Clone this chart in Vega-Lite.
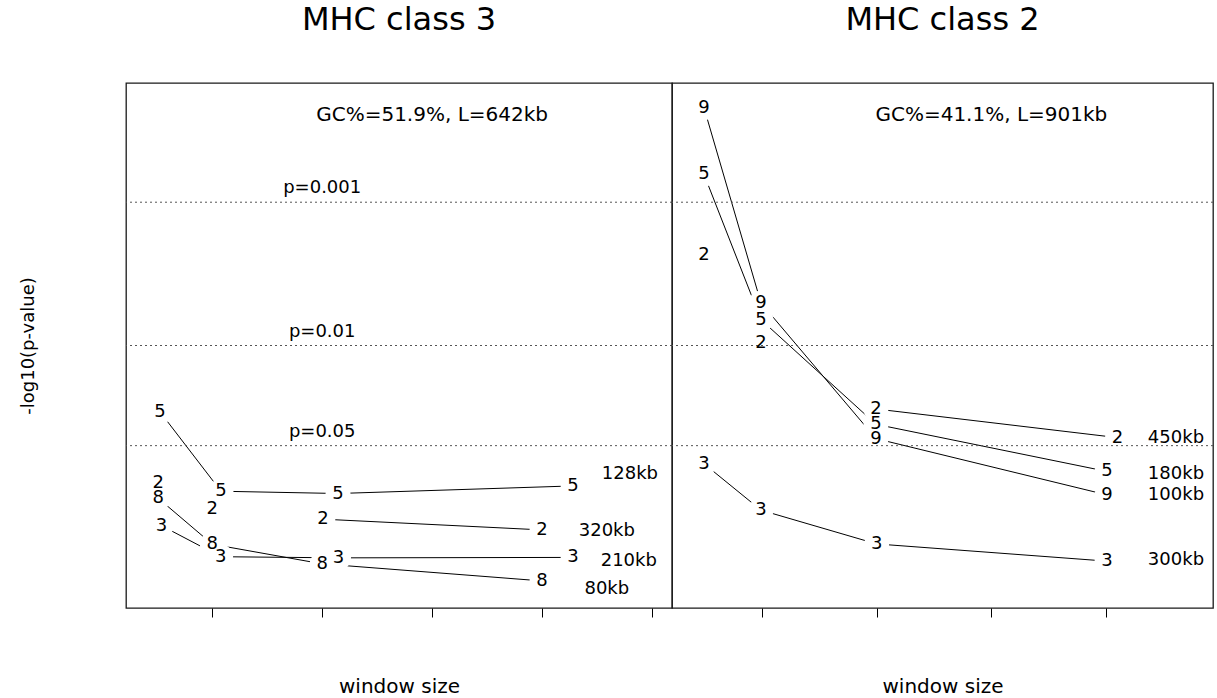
{
  "$schema": "https://vega.github.io/schema/vega-lite/v6.json",
  "autosize": {"type": "none"},
  "padding": {"left": 126, "top": 83, "right": 1091, "bottom": 615},
  "background": "white",
  "spacing": 0,
  "bounds": "flush",
  "config": {
    "view": {"stroke": "#1a1a1a", "strokeWidth": 1.3},
    "font": "DejaVu Sans",
    "text": {"font": "DejaVu Sans", "color": "black"},
    "title": {"font": "DejaVu Sans", "fontSize": 32, "fontWeight": "normal", "color": "black", "offset": 50, "baseline": "alphabetic", "anchor": "middle"}
  },
  "datasets": {
    "pts": [
      {"panel": "MHC class 3", "series": "5", "t": 0.524, "v": 1.537, "joined": true},
      {"panel": "MHC class 3", "series": "5", "t": 1.079, "v": 0.983, "joined": true},
      {"panel": "MHC class 3", "series": "5", "t": 2.144, "v": 0.967, "joined": true},
      {"panel": "MHC class 3", "series": "5", "t": 4.283, "v": 1.02, "joined": true},
      {"panel": "MHC class 3", "series": "2", "t": 0.508, "v": 1.038, "joined": false},
      {"panel": "MHC class 3", "series": "2", "t": 1.0, "v": 0.862, "joined": false},
      {"panel": "MHC class 3", "series": "2", "t": 2.006, "v": 0.788, "joined": true},
      {"panel": "MHC class 3", "series": "2", "t": 4.0, "v": 0.713, "joined": true},
      {"panel": "MHC class 3", "series": "8", "t": 0.508, "v": 0.934, "joined": true},
      {"panel": "MHC class 3", "series": "8", "t": 1.0, "v": 0.613, "joined": true},
      {"panel": "MHC class 3", "series": "8", "t": 2.0, "v": 0.476, "joined": true},
      {"panel": "MHC class 3", "series": "8", "t": 4.0, "v": 0.357, "joined": true},
      {"panel": "MHC class 3", "series": "3", "t": 0.537, "v": 0.743, "joined": true},
      {"panel": "MHC class 3", "series": "3", "t": 1.076, "v": 0.526, "joined": true},
      {"panel": "MHC class 3", "series": "3", "t": 2.149, "v": 0.518, "joined": true},
      {"panel": "MHC class 3", "series": "3", "t": 4.283, "v": 0.521, "joined": true},
      {"panel": "MHC class 2", "series": "9", "t": 0.494, "v": 3.66, "joined": true},
      {"panel": "MHC class 2", "series": "9", "t": 0.991, "v": 2.297, "joined": true},
      {"panel": "MHC class 2", "series": "9", "t": 1.994, "v": 1.35, "joined": true},
      {"panel": "MHC class 2", "series": "9", "t": 4.009, "v": 0.957, "joined": true},
      {"panel": "MHC class 2", "series": "5", "t": 0.494, "v": 3.195, "joined": true},
      {"panel": "MHC class 2", "series": "5", "t": 0.991, "v": 2.18, "joined": true},
      {"panel": "MHC class 2", "series": "5", "t": 1.994, "v": 1.45, "joined": true},
      {"panel": "MHC class 2", "series": "5", "t": 4.009, "v": 1.121, "joined": true},
      {"panel": "MHC class 2", "series": "2", "t": 0.494, "v": 2.629, "joined": false},
      {"panel": "MHC class 2", "series": "2", "t": 0.991, "v": 2.015, "joined": false},
      {"panel": "MHC class 2", "series": "2", "t": 1.994, "v": 1.557, "joined": true},
      {"panel": "MHC class 2", "series": "2", "t": 4.1, "v": 1.357, "joined": true},
      {"panel": "MHC class 2", "series": "3", "t": 0.494, "v": 1.175, "joined": true},
      {"panel": "MHC class 2", "series": "3", "t": 0.991, "v": 0.851, "joined": true},
      {"panel": "MHC class 2", "series": "3", "t": 2.0, "v": 0.615, "joined": true},
      {"panel": "MHC class 2", "series": "3", "t": 4.009, "v": 0.495, "joined": true}
    ],
    "labels": [
      {"panel": "MHC class 3", "label": "128kb", "t": 4.8, "v": 1.101},
      {"panel": "MHC class 3", "label": "320kb", "t": 4.59, "v": 0.702},
      {"panel": "MHC class 3", "label": "210kb", "t": 4.79, "v": 0.498},
      {"panel": "MHC class 3", "label": "80kb", "t": 4.59, "v": 0.303},
      {"panel": "MHC class 2", "label": "450kb", "t": 4.61, "v": 1.357},
      {"panel": "MHC class 2", "label": "180kb", "t": 4.61, "v": 1.101},
      {"panel": "MHC class 2", "label": "100kb", "t": 4.61, "v": 0.959},
      {"panel": "MHC class 2", "label": "300kb", "t": 4.61, "v": 0.502}
    ],
    "notes": [
      {"panel": "MHC class 3", "label": "GC%=51.9%, L=642kb", "t": 3, "v": 3.606},
      {"panel": "MHC class 2", "label": "GC%=41.1%, L=901kb", "t": 3, "v": 3.606}
    ],
    "thresh": [
      {"v": 3, "label": "p=0.001"},
      {"v": 2, "label": "p=0.01"},
      {"v": 1.30103, "label": "p=0.05"}
    ]
  },
  "hconcat": [
    {
      "width": 546,
      "height": 525,
      "title": {"text": "MHC class 3", "offset": 46},
      "layer": [
        {
          "data": {"name": "pts"},
          "transform": [{"filter": "datum.panel == 'MHC class 3' && datum.joined"}],
          "mark": {"type": "line", "color": "black", "strokeWidth": 1},
          "encoding": {
            "x": {"field": "t", "type": "quantitative",
                  "scale": {"domain": [0.2147, 5.183], "nice": false, "zero": false},
                  "axis": {"title": "window size", "values": [1, 2, 3, 4, 5], "labels": false, "domain": false, "grid": false,
                           "ticks": true, "tickSize": 9, "tickColor": "black", "tickWidth": 1,
                           "titleFont": "DejaVu Sans", "titleFontSize": 20, "titleFontWeight": "normal", "titleColor": "black", "titlePadding": 59}},
            "y": {"field": "v", "type": "quantitative",
                  "scale": {"domain": [0.168, 3.832], "nice": false, "zero": false},
                  "axis": {"title": "-log10(p-value)", "ticks": false, "labels": false, "domain": false, "grid": false,
                           "titleFont": "DejaVu Sans", "titleFontSize": 18, "titleFontWeight": "normal", "titleColor": "black", "titlePadding": 89}},
            "detail": {"field": "series"}
          }
        },
        {
          "data": {"name": "pts"},
          "transform": [{"filter": "datum.panel == 'MHC class 3'"}],
          "mark": {"type": "point", "shape": "circle", "filled": true, "color": "white", "opacity": 1, "size": 620, "strokeWidth": 0},
          "encoding": {
            "x": {"field": "t", "type": "quantitative"},
            "y": {"field": "v", "type": "quantitative"}
          }
        },
        {
          "data": {"name": "thresh"},
          "mark": {"type": "rule", "color": "#555555", "strokeDash": [2, 3], "strokeWidth": 1},
          "encoding": {"y": {"field": "v", "type": "quantitative"}}
        },
        {
          "data": {"name": "thresh"},
          "mark": {"type": "text", "fontSize": 18, "align": "center", "baseline": "middle", "dy": -14},
          "encoding": {
            "x": {"datum": 2, "type": "quantitative"},
            "y": {"field": "v", "type": "quantitative"},
            "text": {"field": "label"}
          }
        },
        {
          "data": {"name": "pts"},
          "transform": [{"filter": "datum.panel == 'MHC class 3'"}],
          "mark": {"type": "text", "fontSize": 18, "align": "center", "baseline": "middle"},
          "encoding": {
            "x": {"field": "t", "type": "quantitative"},
            "y": {"field": "v", "type": "quantitative"},
            "text": {"field": "series"}
          }
        },
        {
          "data": {"name": "labels"},
          "transform": [{"filter": "datum.panel == 'MHC class 3'"}],
          "mark": {"type": "text", "fontSize": 18, "align": "center", "baseline": "middle"},
          "encoding": {
            "x": {"field": "t", "type": "quantitative"},
            "y": {"field": "v", "type": "quantitative"},
            "text": {"field": "label"}
          }
        },
        {
          "data": {"name": "notes"},
          "transform": [{"filter": "datum.panel == 'MHC class 3'"}],
          "mark": {"type": "text", "fontSize": 20, "align": "center", "baseline": "middle"},
          "encoding": {
            "x": {"field": "t", "type": "quantitative"},
            "y": {"field": "v", "type": "quantitative"},
            "text": {"field": "label"}
          }
        }
      ]
    },
    {
      "width": 541,
      "height": 525,
      "title": {"text": "MHC class 2", "offset": 46},
      "layer": [
        {
          "data": {"name": "pts"},
          "transform": [{"filter": "datum.panel == 'MHC class 2' && datum.joined"}],
          "mark": {"type": "line", "color": "black", "strokeWidth": 1},
          "encoding": {
            "x": {"field": "t", "type": "quantitative",
                  "scale": {"domain": [0.2151, 4.933], "nice": false, "zero": false},
                  "axis": {"title": "window size", "values": [1, 2, 3, 4], "labels": false, "domain": false, "grid": false,
                           "ticks": true, "tickSize": 9, "tickColor": "black", "tickWidth": 1,
                           "titleFont": "DejaVu Sans", "titleFontSize": 20, "titleFontWeight": "normal", "titleColor": "black", "titlePadding": 59}},
            "y": {"field": "v", "type": "quantitative",
                  "scale": {"domain": [0.168, 3.832], "nice": false, "zero": false},
                  "axis": null},
            "detail": {"field": "series"}
          }
        },
        {
          "data": {"name": "pts"},
          "transform": [{"filter": "datum.panel == 'MHC class 2'"}],
          "mark": {"type": "point", "shape": "circle", "filled": true, "color": "white", "opacity": 1, "size": 620, "strokeWidth": 0},
          "encoding": {
            "x": {"field": "t", "type": "quantitative"},
            "y": {"field": "v", "type": "quantitative"}
          }
        },
        {
          "data": {"name": "thresh"},
          "mark": {"type": "rule", "color": "#555555", "strokeDash": [2, 3], "strokeWidth": 1},
          "encoding": {"y": {"field": "v", "type": "quantitative"}}
        },
        {
          "data": {"name": "pts"},
          "transform": [{"filter": "datum.panel == 'MHC class 2'"}],
          "mark": {"type": "text", "fontSize": 18, "align": "center", "baseline": "middle"},
          "encoding": {
            "x": {"field": "t", "type": "quantitative"},
            "y": {"field": "v", "type": "quantitative"},
            "text": {"field": "series"}
          }
        },
        {
          "data": {"name": "labels"},
          "transform": [{"filter": "datum.panel == 'MHC class 2'"}],
          "mark": {"type": "text", "fontSize": 18, "align": "center", "baseline": "middle"},
          "encoding": {
            "x": {"field": "t", "type": "quantitative"},
            "y": {"field": "v", "type": "quantitative"},
            "text": {"field": "label"}
          }
        },
        {
          "data": {"name": "notes"},
          "transform": [{"filter": "datum.panel == 'MHC class 2'"}],
          "mark": {"type": "text", "fontSize": 20, "align": "center", "baseline": "middle"},
          "encoding": {
            "x": {"field": "t", "type": "quantitative"},
            "y": {"field": "v", "type": "quantitative"},
            "text": {"field": "label"}
          }
        }
      ]
    }
  ],
  "resolve": {"scale": {"x": "independent", "y": "independent"}}
}
